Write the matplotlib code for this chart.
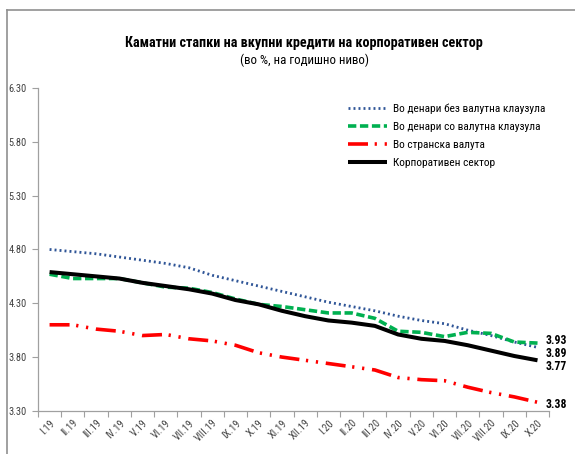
import matplotlib
matplotlib.use('Agg')
import matplotlib.pyplot as plt
from matplotlib import font_manager
from matplotlib.lines import Line2D
import numpy as np

installed = {f.name for f in font_manager.fontManager.ttflist}
prefs = ['Liberation Sans Narrow', 'DejaVu Sans Condensed', 'Roboto Condensed', 'Liberation Sans']
narrow = next((p for p in prefs if p in installed), 'DejaVu Sans')
plt.rcParams['font.family'] = [narrow, 'DejaVu Sans']
plt.rcParams['lines.scale_dashes'] = False

# Data
months = ['I.19', 'II.19', 'III.19', 'IV.19', 'V.19', 'VI.19', 'VII.19', 'VIII.19',
          'IX.19', 'X.19', 'XI.19', 'XII.19', 'I.20', 'II.20', 'III.20', 'IV.20',
          'V.20', 'VI.20', 'VII.20', 'VIII.20', 'IX.20', 'X.20']
denars_no_clause = [4.80, 4.78, 4.76, 4.73, 4.70, 4.67, 4.63, 4.56, 4.51, 4.46, 4.41,
                    4.36, 4.31, 4.27, 4.23, 4.18, 4.14, 4.11, 4.05, 4.00, 3.94, 3.89]
denars_clause = [4.57, 4.53, 4.53, 4.53, 4.49, 4.45, 4.44, 4.40, 4.34, 4.29, 4.27,
                 4.24, 4.21, 4.21, 4.16, 4.04, 4.03, 3.99, 4.03, 4.02, 3.94, 3.93]
foreign = [4.10, 4.10, 4.06, 4.04, 4.00, 4.01, 3.97, 3.95, 3.91, 3.84, 3.80,
           3.77, 3.74, 3.71, 3.68, 3.61, 3.59, 3.58, 3.52, 3.47, 3.43, 3.38]
corporate = [4.59, 4.57, 4.55, 4.53, 4.49, 4.46, 4.43, 4.39, 4.33, 4.29, 4.23,
             4.18, 4.14, 4.12, 4.09, 4.01, 3.97, 3.95, 3.91, 3.86, 3.81, 3.77]
end_labels = ['3.93', '3.89', '3.77', '3.38']

fig = plt.figure(figsize=(5.75, 4.54), dpi=100)
ax = fig.add_axes([0.066, 0.095, 0.889, 0.711])

x = np.arange(len(months))

ax.plot(x, denars_no_clause, color='#2F5597', lw=2.0, dashes=(1.4, 2.2),
        label='Во денари без валутна клаузула')
ax.plot(x, denars_clause, color='#00B050', lw=2.6, dashes=(6, 2.6),
        label='Во денари со валутна клаузула')
ax.plot(x, foreign, color='#FF0000', lw=2.6,
        dashes=(14.4, 4.8, 1.6, 5.6, 1.6, 5.6), label='Во странска валута')
ax.plot(x, corporate, color='black', lw=2.9, label='Корпоративен сектор',
        solid_capstyle='butt')

ax.set_xlim(-0.5, len(months) - 0.5)
ax.set_ylim(3.30, 6.30)
yt = np.arange(3.30, 6.31, 0.50)
ax.set_yticks(yt)
ax.set_yticklabels([f'{v:.2f}' for v in yt])
ax.set_xticks(x)
ax.set_xticklabels(months, rotation=45, ha='right', rotation_mode='anchor')
ax.set_xticks(np.arange(-0.5, len(months), 1.0), minor=True)
ax.tick_params(axis='x', which='major', length=0, labelsize=7.5, colors='#404040', pad=5)
ax.tick_params(axis='x', which='minor', length=4, color='#A0A0A0', width=0.8)
ax.tick_params(axis='y', length=4, color='#A0A0A0', labelsize=7.5, labelcolor='#404040', pad=4)

for side in ['top', 'right']:
    ax.spines[side].set_visible(False)
for side in ['left', 'bottom']:
    ax.spines[side].set_color('#A0A0A0')
    ax.spines[side].set_linewidth(0.9)

# end-of-series value labels
last = len(months) - 1
label_vals = [denars_clause[-1], denars_no_clause[-1], corporate[-1], foreign[-1]]
offsets = [1.9, -4.3, -4.75, -1.5]
for txt, v, dy in zip(end_labels, label_vals, offsets):
    ax.annotate(txt, xy=(last, v), xytext=(6, dy), textcoords='offset points',
                ha='left', va='center', fontsize=8.5, fontweight='bold')

leg = ax.legend(loc='upper right', bbox_to_anchor=(1.012, 0.985), frameon=False,
                fontsize=8.2, handlelength=3.4, labelspacing=0.7, handletextpad=0.5)

fig.text(0.529, 0.906, 'Каматни стапки на вкупни кредити на корпоративен сектор',
         ha='center', va='center', fontsize=10.2, fontweight='bold')
fig.text(0.529, 0.868, '(во %, на годишно ниво)', ha='center', va='center', fontsize=9.3)

# outer frame (left and top edges)
fig.add_artist(Line2D([7 / 575, 7 / 575], [0, 1 - 10 / 454], color='#909090', lw=1.2,
                      transform=fig.transFigure))
fig.add_artist(Line2D([7 / 575, 1], [1 - 10 / 454, 1 - 10 / 454], color='#909090', lw=1.2,
                      transform=fig.transFigure))

fig.savefig('out.png', dpi=100)
